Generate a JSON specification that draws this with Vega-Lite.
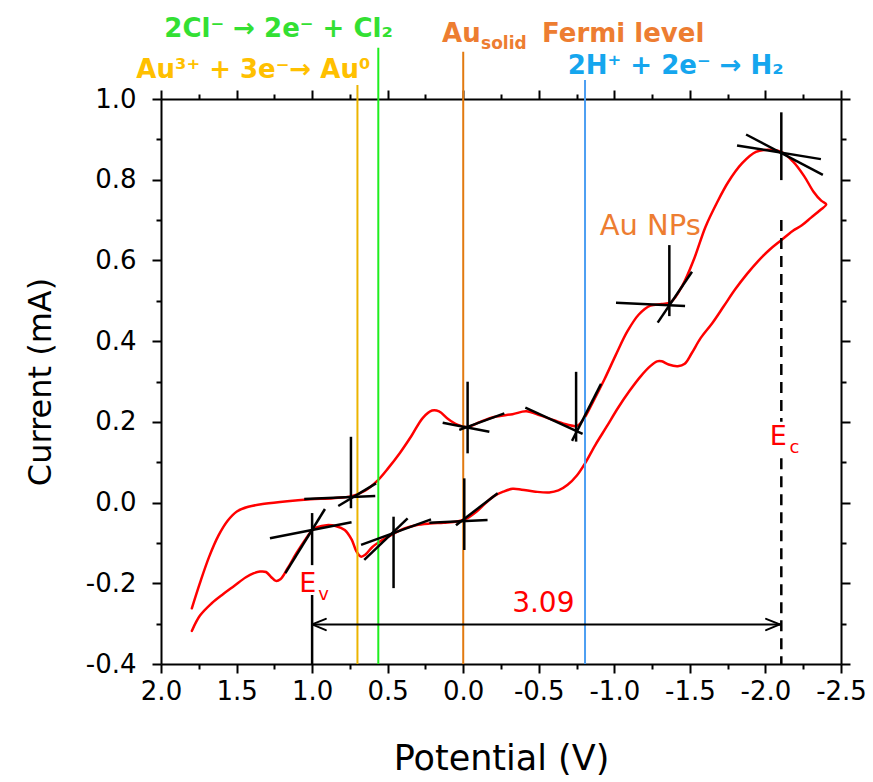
{
  "$schema": "https://vega.github.io/schema/vega-lite/v6.json",
  "width": 680,
  "height": 565,
  "autosize": {"type": "none"},
  "padding": {"left": 161, "top": 99, "right": 32, "bottom": 118},
  "background": "white",
  "config": {"view": {"stroke": null}, "font": "DejaVu Sans"},
  "datasets": {
    "curve": [
      {"i":0,"x":1.796,"y":-0.262},{"i":1,"x":1.742,"y":-0.199},{"i":2,"x":1.681,"y":-0.134},{"i":3,"x":1.62,"y":-0.082},{"i":4,"x":1.559,"y":-0.045},{"i":5,"x":1.498,"y":-0.022},{"i":6,"x":1.422,"y":-0.0105},{"i":7,"x":1.316,"y":-0.003},{"i":8,"x":1.164,"y":0.0035},{"i":9,"x":1.012,"y":0.008},{"i":10,"x":0.86,"y":0.011},{"i":11,"x":0.738,"y":0.016},{"i":12,"x":0.647,"y":0.03},{"i":13,"x":0.571,"y":0.053},{"i":14,"x":0.495,"y":0.086},{"i":15,"x":0.419,"y":0.123},{"i":16,"x":0.343,"y":0.165},{"i":17,"x":0.267,"y":0.21},{"i":18,"x":0.206,"y":0.228},{"i":19,"x":0.16,"y":0.226},{"i":20,"x":0.1,"y":0.207},{"i":21,"x":0.039,"y":0.193},{"i":22,"x":-0.022,"y":0.187},{"i":23,"x":-0.113,"y":0.2},{"i":24,"x":-0.204,"y":0.212},{"i":25,"x":-0.326,"y":0.219},{"i":26,"x":-0.417,"y":0.226},{"i":27,"x":-0.508,"y":0.216},{"i":28,"x":-0.6,"y":0.204},{"i":29,"x":-0.691,"y":0.193},{"i":30,"x":-0.752,"y":0.19},{"i":31,"x":-0.797,"y":0.207},{"i":32,"x":-0.858,"y":0.249},{"i":33,"x":-0.934,"y":0.305},{"i":34,"x":-1.01,"y":0.366},{"i":35,"x":-1.086,"y":0.424},{"i":36,"x":-1.162,"y":0.466},{"i":37,"x":-1.238,"y":0.488},{"i":38,"x":-1.314,"y":0.492},{"i":39,"x":-1.375,"y":0.497},{"i":40,"x":-1.451,"y":0.538},{"i":41,"x":-1.527,"y":0.603},{"i":42,"x":-1.603,"y":0.683},{"i":43,"x":-1.679,"y":0.743},{"i":44,"x":-1.755,"y":0.795},{"i":45,"x":-1.846,"y":0.841},{"i":46,"x":-1.937,"y":0.869},{"i":47,"x":-2.013,"y":0.874},{"i":48,"x":-2.104,"y":0.869},{"i":49,"x":-2.18,"y":0.846},{"i":50,"x":-2.256,"y":0.809},{"i":51,"x":-2.317,"y":0.771},{"i":52,"x":-2.369,"y":0.748},{"i":53,"x":-2.402,"y":0.739},
      {"i":54,"x":-2.363,"y":0.725},{"i":55,"x":-2.302,"y":0.706},{"i":56,"x":-2.241,"y":0.687},{"i":57,"x":-2.18,"y":0.673},{"i":58,"x":-2.104,"y":0.65},{"i":59,"x":-2.029,"y":0.627},{"i":60,"x":-1.953,"y":0.599},{"i":61,"x":-1.877,"y":0.566},{"i":62,"x":-1.801,"y":0.529},{"i":63,"x":-1.725,"y":0.487},{"i":64,"x":-1.649,"y":0.445},{"i":65,"x":-1.572,"y":0.408},{"i":66,"x":-1.512,"y":0.37},{"i":67,"x":-1.466,"y":0.344},{"i":68,"x":-1.42,"y":0.338},{"i":69,"x":-1.359,"y":0.342},{"i":70,"x":-1.314,"y":0.35},{"i":71,"x":-1.283,"y":0.35},{"i":72,"x":-1.238,"y":0.338},{"i":73,"x":-1.177,"y":0.314},{"i":74,"x":-1.101,"y":0.277},{"i":75,"x":-1.025,"y":0.235},{"i":76,"x":-0.949,"y":0.188},{"i":77,"x":-0.873,"y":0.142},{"i":78,"x":-0.806,"y":0.097},{"i":79,"x":-0.752,"y":0.067},{"i":80,"x":-0.691,"y":0.044},{"i":81,"x":-0.63,"y":0.03},{"i":82,"x":-0.569,"y":0.025},{"i":83,"x":-0.478,"y":0.027},{"i":84,"x":-0.387,"y":0.032},{"i":85,"x":-0.326,"y":0.034},{"i":86,"x":-0.265,"y":0.027},{"i":87,"x":-0.204,"y":0.016},{"i":88,"x":-0.143,"y":-0.003},{"i":89,"x":-0.083,"y":-0.024},{"i":90,"x":-0.022,"y":-0.04},{"i":91,"x":0.039,"y":-0.047},{"i":92,"x":0.13,"y":-0.05},{"i":93,"x":0.221,"y":-0.052},{"i":94,"x":0.313,"y":-0.056},{"i":95,"x":0.389,"y":-0.064},{"i":96,"x":0.465,"y":-0.078},{"i":97,"x":0.541,"y":-0.094},{"i":98,"x":0.601,"y":-0.11},{"i":99,"x":0.647,"y":-0.129},{"i":100,"x":0.677,"y":-0.134},{"i":101,"x":0.708,"y":-0.12},{"i":102,"x":0.738,"y":-0.092},{"i":103,"x":0.784,"y":-0.068},{"i":104,"x":0.845,"y":-0.058},{"i":105,"x":0.905,"y":-0.056},{"i":106,"x":0.966,"y":-0.061},{"i":107,"x":0.997,"y":-0.068},{"i":108,"x":1.042,"y":-0.09},{"i":109,"x":1.103,"y":-0.125},{"i":110,"x":1.164,"y":-0.164},{"i":111,"x":1.21,"y":-0.19},{"i":112,"x":1.24,"y":-0.194},{"i":113,"x":1.27,"y":-0.185},{"i":114,"x":1.305,"y":-0.172},{"i":115,"x":1.345,"y":-0.171},{"i":116,"x":1.385,"y":-0.175},{"i":117,"x":1.438,"y":-0.185},{"i":118,"x":1.514,"y":-0.206},{"i":119,"x":1.59,"y":-0.227},{"i":120,"x":1.666,"y":-0.25},{"i":121,"x":1.742,"y":-0.28},{"i":122,"x":1.796,"y":-0.318}
    ],
    "seg": [
      {"x":0.743,"y":0.163,"x2":0.743,"y2":-0.014},
      {"x":1.052,"y":0.009,"x2":0.582,"y2":0.016},
      {"x":0.827,"y":-0.0085,"x2":0.577,"y2":0.0477},
      {"x":1.0,"y":-0.026,"x2":1.0,"y2":-0.155},
      {"x":1.0,"y":-0.229,"x2":1.0,"y2":-0.4},
      {"x":1.279,"y":-0.0886,"x2":0.739,"y2":-0.0489},
      {"x":1.177,"y":-0.175,"x2":0.915,"y2":-0.016},
      {"x":0.461,"y":-0.035,"x2":0.461,"y2":-0.212},
      {"x":0.676,"y":-0.105,"x2":0.213,"y2":-0.0415},
      {"x":0.655,"y":-0.142,"x2":0.368,"y2":-0.039},
      {"x":-0.007,"y":0.06,"x2":-0.007,"y2":-0.1175},
      {"x":0.224,"y":-0.05,"x2":-0.161,"y2":-0.043},
      {"x":0.048,"y":-0.056,"x2":-0.228,"y2":0.023},
      {"x":-0.029,"y":0.2995,"x2":-0.029,"y2":0.122},
      {"x":0.136,"y":0.198,"x2":-0.173,"y2":0.1756},
      {"x":0.026,"y":0.18,"x2":-0.272,"y2":0.221},
      {"x":-0.411,"y":0.235,"x2":-0.79,"y2":0.17},
      {"x":-0.747,"y":0.324,"x2":-0.747,"y2":0.151},
      {"x":-0.72,"y":0.153,"x2":-0.912,"y2":0.294},
      {"x":-1.364,"y":0.638,"x2":-1.364,"y2":0.462},
      {"x":-1.011,"y":0.495,"x2":-1.468,"y2":0.487},
      {"x":-1.287,"y":0.446,"x2":-1.514,"y2":0.572},
      {"x":-2.105,"y":0.967,"x2":-2.105,"y2":0.799},
      {"x":-1.812,"y":0.885,"x2":-2.367,"y2":0.851},
      {"x":-1.872,"y":0.912,"x2":-2.38,"y2":0.812}
    ]
  },
  "layer": [
    {
      "data": {"name": "curve"},
      "mark": {"type": "line", "color": "#ff0000", "strokeWidth": 2.5, "strokeJoin": "round", "strokeCap": "round", "interpolate": "catmull-rom"},
      "encoding": {
        "x": {"field": "x", "type": "quantitative",
          "scale": {"domain": [-2.5, 2.0], "reverse": true, "nice": false, "zero": false},
          "axis": {"orient": "bottom", "grid": false,
            "values": [2, 1.75, 1.5, 1.25, 1, 0.75, 0.5, 0.25, 0, -0.25, -0.5, -0.75, -1, -1.25, -1.5, -1.75, -2, -2.25, -2.5],
            "labelExpr": "abs(datum.value*2 - round(datum.value*2)) < 0.01 ? replace(format(datum.value, '.1f'), '\u2212', '-') : ''",
            "domainColor": "black", "domainWidth": 2, "tickColor": "black", "tickWidth": 2,
            "tickSize": {"condition": {"test": "abs(datum.value*2 - round(datum.value*2)) < 0.01", "value": 9}, "value": 5},
            "labelFont": "DejaVu Sans", "labelFontSize": 26, "labelColor": "black", "labelPadding": 5,
            "labelFlush": false, "labelOverlap": false,
            "title": "Potential (V)", "titleFont": "DejaVu Sans", "titleFontSize": 35, "titleFontWeight": "normal", "titleColor": "black", "titlePadding": 37}},
        "y": {"field": "y", "type": "quantitative",
          "scale": {"domain": [-0.4, 1.0], "nice": false, "zero": false},
          "axis": {"orient": "left", "grid": false,
            "values": [-0.4, -0.3, -0.2, -0.1, 0, 0.1, 0.2, 0.3, 0.4, 0.5, 0.6, 0.7, 0.8, 0.9, 1.0],
            "labelExpr": "abs(datum.value*5 - round(datum.value*5)) < 0.01 ? replace(format(datum.value, '.1f'), '\u2212', '-') : ''",
            "domainColor": "black", "domainWidth": 2, "tickColor": "black", "tickWidth": 2,
            "tickSize": {"condition": {"test": "abs(datum.value*5 - round(datum.value*5)) < 0.01", "value": 9}, "value": 5},
            "labelFont": "DejaVu Sans", "labelFontSize": 26, "labelColor": "black", "labelPadding": 16,
            "labelFlush": false, "labelOverlap": false,
            "title": "Current (mA)", "titleFont": "DejaVu Sans", "titleFontSize": 32, "titleFontWeight": "normal", "titleColor": "black", "titlePadding": 28}},
        "order": {"field": "i", "type": "quantitative"}
      }
    },
    {
      "data": {"values": [
        {"name": "Au3+", "x": 0.70, "y": -0.4, "y2": 1.035},
        {"name": "Cl2", "x": 0.562, "y": -0.4, "y2": 1.127},
        {"name": "Fermi", "x": 0.0, "y": -0.4, "y2": 1.117},
        {"name": "H2", "x": -0.806, "y": -0.4, "y2": 1.047}
      ]},
      "mark": {"type": "rule", "strokeWidth": 2},
      "encoding": {
        "x": {"field": "x", "type": "quantitative",
          "axis": {"orient": "top", "grid": false, "labels": false, "title": null,
            "values": [2, 1.75, 1.5, 1.25, 1, 0.75, 0.5, 0.25, 0, -0.25, -0.5, -0.75, -1, -1.25, -1.5, -1.75, -2, -2.25, -2.5],
            "domainColor": "black", "domainWidth": 2, "tickColor": "black", "tickWidth": 2,
            "tickSize": {"condition": {"test": "abs(datum.value*2 - round(datum.value*2)) < 0.01", "value": 9}, "value": 5}}},
        "y": {"field": "y", "type": "quantitative",
          "axis": {"orient": "right", "grid": false, "labels": false, "title": null,
            "values": [-0.4, -0.3, -0.2, -0.1, 0, 0.1, 0.2, 0.3, 0.4, 0.5, 0.6, 0.7, 0.8, 0.9, 1.0],
            "domainColor": "black", "domainWidth": 2, "tickColor": "black", "tickWidth": 2,
            "tickSize": {"condition": {"test": "abs(datum.value*5 - round(datum.value*5)) < 0.01", "value": 9}, "value": 5}}},
        "y2": {"field": "y2"},
        "color": {"field": "name", "type": "nominal", "legend": null,
          "scale": {"domain": ["Au3+", "Cl2", "Fermi", "H2"], "range": ["#ecb400", "#1fee1f", "#e27a10", "#4d9ff2"]}}
      }
    },
    {
      "data": {"name": "seg"},
      "mark": {"type": "rule", "color": "black", "strokeWidth": 2.5},
      "encoding": {
        "x": {"field": "x", "type": "quantitative", "axis": null},
        "y": {"field": "y", "type": "quantitative", "axis": null},
        "x2": {"field": "x2"},
        "y2": {"field": "y2"}
      }
    },
    {
      "data": {"values": [
        {"x": -2.105, "y": 0.70, "y2": 0.20},
        {"x": -2.105, "y": 0.11, "y2": -0.4}
      ]},
      "mark": {"type": "rule", "color": "black", "strokeWidth": 2.5, "strokeDash": [11, 7]},
      "encoding": {
        "x": {"field": "x", "type": "quantitative", "axis": null},
        "y": {"field": "y", "type": "quantitative", "axis": null},
        "y2": {"field": "y2"}
      }
    },
    {
      "data": {"values": [
        {"x": 1.0, "y": -0.302, "x2": -2.095, "y2": -0.302},
        {"x": 1.0, "y": -0.302, "x2": 0.909, "y2": -0.288},
        {"x": 1.0, "y": -0.302, "x2": 0.909, "y2": -0.316},
        {"x": -2.095, "y": -0.302, "x2": -2.004, "y2": -0.288},
        {"x": -2.095, "y": -0.302, "x2": -2.004, "y2": -0.316}
      ]},
      "mark": {"type": "rule", "color": "black", "strokeWidth": 2, "strokeCap": "round"},
      "encoding": {
        "x": {"field": "x", "type": "quantitative", "axis": null},
        "y": {"field": "y", "type": "quantitative", "axis": null},
        "x2": {"field": "x2"},
        "y2": {"field": "y2"}
      }
    },
    {
      "data": {"values": [{"t": "2Cl\u207b \u2192 2e\u207b + Cl\u2082", "x": 1.222, "y": 1.153}]},
      "mark": {"type": "text", "font": "DejaVu Sans", "fontWeight": "bold", "fontSize": 26, "align": "center", "baseline": "alphabetic", "color": "#33e033"},
      "encoding": {"x": {"field": "x", "type": "quantitative", "axis": null}, "y": {"field": "y", "type": "quantitative", "axis": null}, "text": {"field": "t"}}
    },
    {
      "data": {"values": [{"t": "Au\u00b3\u207a + 3e\u207b\u2192 Au\u2070", "x": 1.389, "y": 1.052}]},
      "mark": {"type": "text", "font": "DejaVu Sans", "fontWeight": "bold", "fontSize": 26, "align": "center", "baseline": "alphabetic", "color": "#ffc000"},
      "encoding": {"x": {"field": "x", "type": "quantitative", "axis": null}, "y": {"field": "y", "type": "quantitative", "axis": null}, "text": {"field": "t"}}
    },
    {
      "data": {"values": [{"t": "2H\u207a + 2e\u207b \u2192 H\u2082", "x": -1.406, "y": 1.062}]},
      "mark": {"type": "text", "font": "DejaVu Sans", "fontWeight": "bold", "fontSize": 26, "align": "center", "baseline": "alphabetic", "color": "#15a6ee"},
      "encoding": {"x": {"field": "x", "type": "quantitative", "axis": null}, "y": {"field": "y", "type": "quantitative", "axis": null}, "text": {"field": "t"}}
    },
    {
      "data": {"values": [{"t": "Au", "x": 0.14, "y": 1.141}, {"t": "Fermi level", "x": -0.522, "y": 1.141}]},
      "mark": {"type": "text", "font": "DejaVu Sans", "fontWeight": "bold", "fontSize": 26, "align": "left", "baseline": "alphabetic", "color": "#ed7d31"},
      "encoding": {"x": {"field": "x", "type": "quantitative", "axis": null}, "y": {"field": "y", "type": "quantitative", "axis": null}, "text": {"field": "t"}}
    },
    {
      "data": {"values": [{"t": "solid", "x": -0.118, "y": 1.124}]},
      "mark": {"type": "text", "font": "DejaVu Sans", "fontWeight": "bold", "fontSize": 17, "align": "left", "baseline": "alphabetic", "color": "#ed7d31"},
      "encoding": {"x": {"field": "x", "type": "quantitative", "axis": null}, "y": {"field": "y", "type": "quantitative", "axis": null}, "text": {"field": "t"}}
    },
    {
      "data": {"values": [{"t": "Au NPs", "x": -1.238, "y": 0.663}]},
      "mark": {"type": "text", "font": "DejaVu Sans", "fontSize": 29, "align": "center", "baseline": "alphabetic", "color": "#ed7d31"},
      "encoding": {"x": {"field": "x", "type": "quantitative", "axis": null}, "y": {"field": "y", "type": "quantitative", "axis": null}, "text": {"field": "t"}}
    },
    {
      "data": {"values": [{"t": "3.09", "x": -0.53, "y": -0.27}]},
      "mark": {"type": "text", "font": "DejaVu Sans", "fontSize": 28, "align": "center", "baseline": "alphabetic", "color": "#ff0000"},
      "encoding": {"x": {"field": "x", "type": "quantitative", "axis": null}, "y": {"field": "y", "type": "quantitative", "axis": null}, "text": {"field": "t"}}
    },
    {
      "data": {"values": [{"t": "E", "x": 1.085, "y": -0.221}, {"t": "E", "x": -2.028, "y": 0.142}]},
      "mark": {"type": "text", "font": "DejaVu Sans", "fontSize": 27, "align": "left", "baseline": "alphabetic", "color": "#ff0000"},
      "encoding": {"x": {"field": "x", "type": "quantitative", "axis": null}, "y": {"field": "y", "type": "quantitative", "axis": null}, "text": {"field": "t"}}
    },
    {
      "data": {"values": [{"t": "v", "x": 0.96, "y": -0.241}, {"t": "c", "x": -2.16, "y": 0.123}]},
      "mark": {"type": "text", "font": "DejaVu Sans", "fontSize": 18, "align": "left", "baseline": "alphabetic", "color": "#ff0000"},
      "encoding": {"x": {"field": "x", "type": "quantitative", "axis": null}, "y": {"field": "y", "type": "quantitative", "axis": null}, "text": {"field": "t"}}
    }
  ],
  "resolve": {"axis": {"x": "independent", "y": "independent"}}
}
